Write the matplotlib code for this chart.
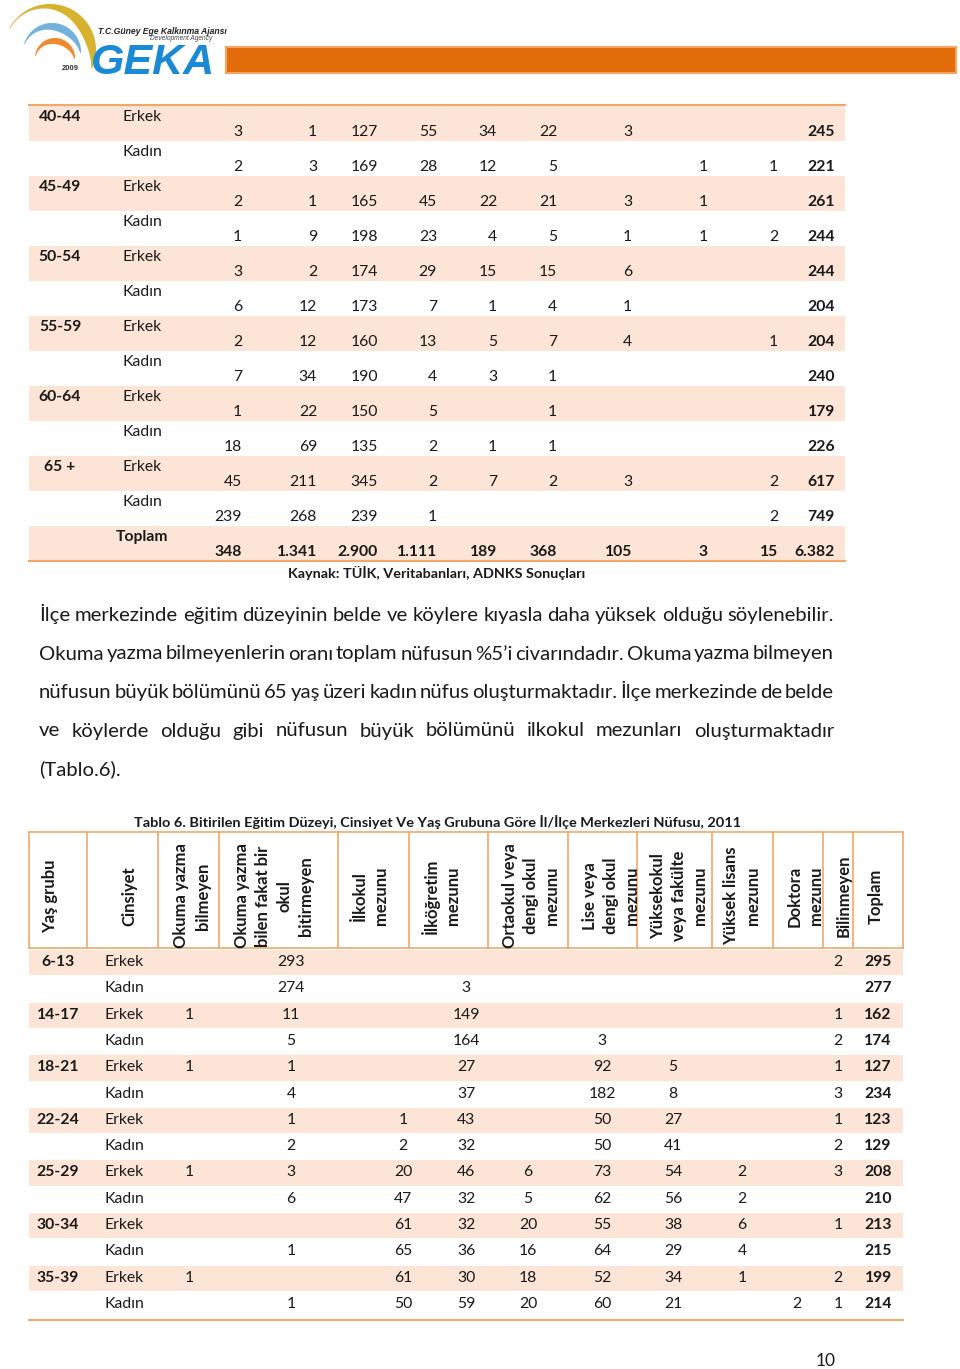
''' page 10 of the GEKA report: two education tables and a paragraph '''
import numpy as np
import matplotlib
matplotlib.use('Agg')
import matplotlib.pyplot as plt
from matplotlib.patches import Rectangle, Polygon

plt.rcParams['font.family'] = ['Lato', 'DejaVu Sans']

# ---- data -------------------------------------------------------------
sexes = ['Erkek', 'Kadın']

top_groups = ['40-44', '45-49', '50-54', '55-59', '60-64', '65 +']
top_values = [
    [3, 1, 127, 55, 34, 22, 3, None, None, 245],
    [2, 3, 169, 28, 12, 5, None, 1, 1, 221],
    [2, 1, 165, 45, 22, 21, 3, 1, None, 261],
    [1, 9, 198, 23, 4, 5, 1, 1, 2, 244],
    [3, 2, 174, 29, 15, 15, 6, None, None, 244],
    [6, 12, 173, 7, 1, 4, 1, None, None, 204],
    [2, 12, 160, 13, 5, 7, 4, None, 1, 204],
    [7, 34, 190, 4, 3, 1, None, None, None, 240],
    [1, 22, 150, 5, None, 1, None, None, None, 179],
    [18, 69, 135, 2, 1, 1, None, None, None, 226],
    [45, 211, 345, 2, 7, 2, 3, None, 2, 617],
    [239, 268, 239, 1, None, None, None, None, 2, 749],
]
top_total = [348, 1341, 2900, 1111, 189, 368, 105, 3, 15, 6382]
source_text = 'Kaynak: TÜİK, Veritabanları, ADNKS Sonuçları'

paragraph = [
    'İlçe merkezinde eğitim düzeyinin belde ve köylere kıyasla daha yüksek olduğu söylenebilir.',
    'Okuma yazma bilmeyenlerin oranı toplam nüfusun %5’i civarındadır. Okuma yazma bilmeyen',
    'nüfusun büyük bölümünü 65 yaş üzeri kadın nüfus oluşturmaktadır. İlçe merkezinde de belde',
    've köylerde olduğu gibi nüfusun büyük bölümünü ilkokul mezunları oluşturmaktadır',
    '(Tablo.6).',
]

table_title = ('Tablo 6. Bitirilen Eğitim Düzeyi, Cinsiyet Ve Yaş Grubuna Göre '
               'İl/İlçe Merkezleri Nüfusu, 2011')
header_labels = [
    'Yaş grubu', 'Cinsiyet', 'Okuma yazma\nbilmeyen',
    'Okuma yazma\nbilen fakat bir\nokul\nbitirmeyen', 'İlkokul\nmezunu',
    'İlköğretim\nmezunu', 'Ortaokul veya\ndengi okul\nmezunu',
    'Lise veya\ndengi okul\nmezunu', 'Yüksekokul\nveya fakülte\nmezunu',
    'Yüksek lisans\nmezunu', 'Doktora\nmezunu', 'Bilinmeyen', 'Toplam',
]
bottom_groups = ['6-13', '14-17', '18-21', '22-24', '25-29', '30-34', '35-39']
bottom_values = [
    [None, 293, None, None, None, None, None, None, None, 2, 295],
    [None, 274, None, 3, None, None, None, None, None, None, 277],
    [1, 11, None, 149, None, None, None, None, None, 1, 162],
    [None, 5, None, 164, None, 3, None, None, None, 2, 174],
    [1, 1, None, 27, None, 92, 5, None, None, 1, 127],
    [None, 4, None, 37, None, 182, 8, None, None, 3, 234],
    [None, 1, 1, 43, None, 50, 27, None, None, 1, 123],
    [None, 2, 2, 32, None, 50, 41, None, None, 2, 129],
    [1, 3, 20, 46, 6, 73, 54, 2, None, 3, 208],
    [None, 6, 47, 32, 5, 62, 56, 2, None, None, 210],
    [None, None, 61, 32, 20, 55, 38, 6, None, 1, 213],
    [None, 1, 65, 36, 16, 64, 29, 4, None, None, 215],
    [1, None, 61, 30, 18, 52, 34, 1, None, 2, 199],
    [None, 1, 50, 59, 20, 60, 21, None, 2, 1, 214],
]
page_number = '10'

# ---- style / layout ---------------------------------------------------
SHADE = '#FCE4D6'
LINE = '#F0A868'
TXT = '#1a1a1a'
TFS = 11.3

top_col_right = [242, 317, 378, 437, 497, 557, 632, 708, 778, 835]
bot_col_center = [189, 291, 403, 466, 528, 602, 673, 742, 797, 838, 878]
head_bounds = [29, 87, 158, 219, 338, 409, 488, 568, 637, 712, 773, 823, 853, 903]
head_center = [50, 129, 192, 274, 370, 441, 531, 611, 679, 742, 805, 844, 876]


def fmt(v):
    return '' if v is None else f'{v:,}'.replace(',', '.')


def crescent(ax, cx, cy, r, t1, t2, w, p, color):
    t = np.radians(np.linspace(t1, t2, 120))
    s = np.linspace(0, 1, 120) ** p
    wt = 0.8 + w * np.sin(np.pi * s)
    outer = np.column_stack([cx + r * np.cos(t), cy + r * np.sin(t)])
    inner = np.column_stack([cx + (r - wt) * np.cos(t), cy + (r - wt) * np.sin(t)])[::-1]
    ax.add_patch(Polygon(np.vstack([outer, inner]), closed=True, color=color, lw=0))


def main():
    fig = plt.figure(figsize=(9.6, 13.69), dpi=100)
    ax = fig.add_axes([0, 0, 1, 1])
    ax.set_xlim(0, 960)
    ax.set_ylim(1369, 0)
    ax.axis('off')
    renderer = fig.canvas.get_renderer()

    def width(s, **kw):
        t = ax.text(0, 0, s, **kw)
        w = t.get_window_extent(renderer).width
        t.remove()
        return w

    # ---- header logo ----
    crescent(ax, 50, 50, 46, 208, 384, 10, 1.9, '#D6B22E')
    crescent(ax, 52, 52, 29, 196, 362, 7, 1.3, '#72B1DC')
    crescent(ax, 55, 58, 20, 186, 363, 5.5, 1.2, '#F08A30')
    ax.text(98, 32, 'T.C.Güney Ege Kalkınma Ajansı', fontsize=6.2, fontweight='bold',
            fontstyle='italic', color='#222222', va='center', family='Liberation Sans')
    ax.text(212, 39, 'Development Agency', fontsize=4.8, fontstyle='italic',
            color='#444444', va='center', ha='right', family='Liberation Sans')
    ax.text(62, 69, '2009', fontsize=5.5, fontweight='bold', color='#333333',
            va='center', family='Liberation Sans')
    ax.text(91, 74, 'GEKA', fontsize=31, fontweight='bold', fontstyle='italic',
            color='#1A8AD4', va='baseline', family='Liberation Sans')
    ax.add_patch(Rectangle((226, 47), 730, 26, facecolor='#E36C0A',
                           edgecolor='#F9A35E', lw=1.5))

    # ---- top table ----
    y0, rh = 106, 35
    n_rows = len(top_values) + 1
    for i in range(n_rows):
        if i % 2 == 0:
            ax.add_patch(Rectangle((29, y0 + i * rh), 816, rh, facecolor=SHADE, lw=0))
    ax.plot([29, 845], [y0 - 1, y0 - 1], color=LINE, lw=1.5)
    ax.plot([29, 845], [y0 + n_rows * rh, y0 + n_rows * rh], color=LINE, lw=1.5)
    for i, row in enumerate(top_values):
        top = y0 + i * rh
        if i % 2 == 0:
            ax.text(60, top + 11, top_groups[i // 2], fontsize=TFS, fontweight='bold',
                    ha='center', va='center', color=TXT)
        ax.text(123, top + 11, sexes[i % 2], fontsize=TFS, va='center', color=TXT)
        for j, v in enumerate(row):
            ax.text(top_col_right[j], top + 26, fmt(v), fontsize=TFS, ha='right',
                    va='center', color=TXT,
                    fontweight='bold' if j == len(row) - 1 else 'normal')
    top = y0 + len(top_values) * rh
    ax.text(116, top + 11, 'Toplam', fontsize=TFS, fontweight='bold', va='center', color=TXT)
    for j, v in enumerate(top_total):
        ax.text(top_col_right[j], top + 26, fmt(v), fontsize=TFS, ha='right',
                va='center', fontweight='bold', color=TXT)
    sfs = 11 * 298 / width(source_text, fontsize=11, fontweight='bold')
    ax.text(288, 573, source_text, fontsize=sfs, fontweight='bold', va='center', color=TXT)

    # ---- paragraph, justified ----
    left, right = 39, 834
    pfs = 13 * (right - left) / width(paragraph[0], fontsize=13)
    for k, line in enumerate(paragraph):
        base = 621 + k * 38.5
        if k == len(paragraph) - 1:
            ax.text(left, base, line, fontsize=pfs, va='baseline', color=TXT)
            continue
        words = line.split(' ')
        ws = [width(w, fontsize=pfs) for w in words]
        gap = (right - left - sum(ws)) / (len(words) - 1)
        x = left
        for w, wd in zip(words, ws):
            ax.text(x, base, w, fontsize=pfs, va='baseline', color=TXT)
            x += wd + gap

    # ---- bottom table ----
    tfs = 10.5 * 608 / width(table_title, fontsize=10.5, fontweight='bold')
    ax.text(437, 822, table_title, fontsize=tfs, fontweight='bold', ha='center',
            va='center', color=TXT)
    htop, hbot = 832, 948
    ax.plot([29, 903], [htop, htop], color=LINE, lw=1.2)
    ax.plot([29, 903], [hbot, hbot], color=LINE, lw=1.2)
    for b in head_bounds:
        ax.plot([b, b], [htop, hbot], color=LINE, lw=1.2)
    for k, lab in enumerate(header_labels):
        t = ax.text(head_center[k], 896, lab, fontsize=12, fontweight='bold',
                    rotation=90, ha='center', va='center', multialignment='center',
                    linespacing=1.4, color=TXT)
        clip = Rectangle((head_bounds[k], htop), head_bounds[k + 1] - head_bounds[k],
                         hbot - htop, transform=ax.transData, fill=False, lw=0)
        t.set_clip_path(clip)

    by0, brh = 949, 26.3
    for i, row in enumerate(bottom_values):
        top = by0 + i * brh
        if i % 2 == 0:
            ax.add_patch(Rectangle((29, top + 1), 874, brh - 1, facecolor=SHADE, lw=0))
            ax.text(58, top + 13, bottom_groups[i // 2], fontsize=TFS, fontweight='bold',
                    ha='center', va='center', color=TXT)
        ax.text(105, top + 13, sexes[i % 2], fontsize=TFS, va='center', color=TXT)
        for j, v in enumerate(row):
            ax.text(bot_col_center[j], top + 13, fmt(v), fontsize=TFS, ha='center',
                    va='center', color=TXT,
                    fontweight='bold' if j == len(row) - 1 else 'normal')
    ax.plot([29, 903], [1320, 1320], color=LINE, lw=1.5)

    ax.text(826, 1361, page_number, fontsize=12.5, ha='center', va='center', color=TXT)

    fig.savefig('out.png', dpi=100)


if __name__ == '__main__':
    main()
